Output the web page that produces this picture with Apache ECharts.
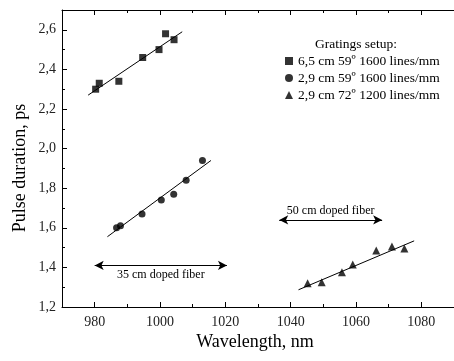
<!DOCTYPE html>
<html>
<head>
<meta charset="utf-8">
<script src="https://cdn.jsdelivr.net/npm/echarts@6/dist/echarts.min.js"></script>
<style>html,body{margin:0;padding:0;background:#fff}#c{width:454px;height:361px}</style>
</head>
<body>
<div id="c"></div>
<script>
const seriesNames = ["6,5 cm 59º 1600 lines/mm", "2,9 cm 59º 1600 lines/mm", "2,9 cm 72º 1200 lines/mm"];
const squares = [[980.3,2.30],[981.4,2.33],[987.4,2.34],[994.7,2.46],[999.7,2.50],[1001.7,2.58],[1004.3,2.55]];
const circles = [[986.7,1.60],[987.9,1.61],[994.5,1.67],[1000.4,1.74],[1004.2,1.77],[1008.0,1.84],[1013.0,1.94]];
const triangles = [[1045.2,1.32],[1049.5,1.325],[1055.7,1.375],[1059.0,1.415],[1066.2,1.485],[1071.0,1.505],[1074.8,1.495]];
const fitSquares = [[978.0,2.27],[1006.8,2.59]];
const fitCircles = [[983.9,1.555],[1015.6,1.94]];
const fitTriangles = [[1042.4,1.287],[1077.8,1.534]];
const arrow35 = {from:[980,1.41], to:[1020.5,1.41], text:"35 cm doped fiber"};
const arrow50 = {from:[1036.5,1.64], to:[1068,1.64], text:"50 cm doped fiber"};
const xMajorTicks = [980,1000,1020,1040,1060,1080];
const xRange = {min:970, max:1090, minorInterval:10};
const yTicks = {min:1.2, max:2.7, interval:0.2};

const F = "Liberation Serif";
const chart = echarts.init(document.getElementById('c'));
function fit(d){return {type:'line', data:d, symbol:'none', lineStyle:{color:'#000', width:1}, silent:true, z:1};}
function arrow(a, pos){
  return {type:'line', data:[], markLine:{silent:true, symbol:['arrow','arrow'], symbolSize:[7,9],
    lineStyle:{color:'#000', width:1, type:'solid'},
    label:{show:true, position:pos, formatter:a.text, fontFamily:F, fontSize:12, color:'#000', distance:3},
    data:[[{coord:a.from},{coord:a.to}]]}};
}
function xAx(position, major){
  return {type:'value', position:position, min:xRange.min, max:xRange.max, interval:xRange.minorInterval,
    axisLine:{show:major, onZero:false, lineStyle:{color:'#000', width:1}},
    axisTick:major ? {inside:true, length:5, customValues:xMajorTicks, lineStyle:{color:'#000'}}
                   : {inside:true, length:3, lineStyle:{color:'#000'}},
    axisLabel:(major && position==='bottom') ? {fontFamily:F, fontSize:14, color:'#222', margin:8, customValues:xMajorTicks, formatter:v=>String(v)} : {show:false},
    splitLine:{show:false}};
}
chart.setOption({
  animation:false,
  textStyle:{fontFamily:F},
  grid:{left:62, right:-8, top:10, bottom:54},
  legend:{data:seriesNames, orient:'vertical', left:280, top:49, itemWidth:8, itemHeight:8, itemGap:3,
    textStyle:{fontFamily:F, fontSize:13.5, color:'#000'}},
  graphic:[
    {type:'text', x:356, y:44, style:{text:'Gratings setup:', font:'13.5px '+F, fill:'#000', textAlign:'center', textVerticalAlign:'middle'}},
    {type:'text', x:255, y:342, style:{text:'Wavelength, nm', font:'18px '+F, fill:'#000', textAlign:'center', textVerticalAlign:'middle'}},
    {type:'text', x:20, y:168, rotation:Math.PI/2, style:{text:'Pulse duration, ps', font:'18px '+F, fill:'#000', textAlign:'center', textVerticalAlign:'middle'}}
  ],
  xAxis:[xAx('bottom',true), xAx('bottom',false), xAx('top',true), xAx('top',false)],
  yAxis:{type:'value', min:yTicks.min, max:yTicks.max, interval:yTicks.interval,
    axisLine:{show:true, onZero:false, lineStyle:{color:'#000', width:1}},
    axisTick:{show:true, inside:true, length:5, lineStyle:{color:'#000'}},
    minorTick:{show:true, splitNumber:2, length:3, lineStyle:{color:'#000'}},
    axisLabel:{fontFamily:F, fontSize:14, color:'#222', margin:6, showMaxLabel:false, formatter:v=>v.toFixed(1).replace('.',',')},
    splitLine:{show:false}},
  series:[
    {name:seriesNames[0], type:'scatter', data:squares, symbol:'rect', symbolSize:7, itemStyle:{color:'#000'}, z:3},
    {name:seriesNames[1], type:'scatter', data:circles, symbol:'circle', symbolSize:7, itemStyle:{color:'#000'}, z:3},
    {name:seriesNames[2], type:'scatter', data:triangles, symbol:'triangle', symbolSize:8, itemStyle:{color:'#000'}, z:3},
    fit(fitSquares), fit(fitCircles), fit(fitTriangles),
    arrow(arrow35,'insideMiddleBottom'), arrow(arrow50,'insideMiddleTop')
  ]
});
</script>
</body>
</html>
